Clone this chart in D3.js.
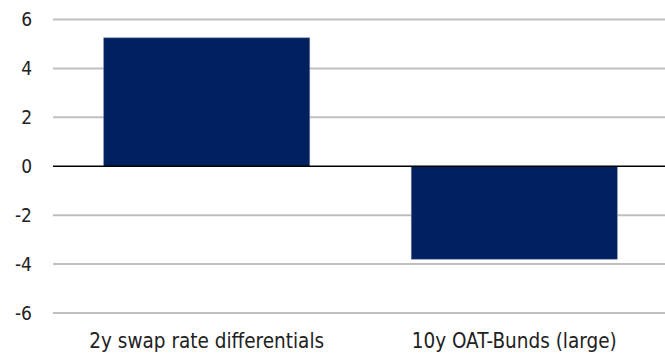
<!DOCTYPE html>
<html>
<head>
<meta charset="utf-8">
<script src="https://cdn.jsdelivr.net/npm/d3@7"></script>
<style>
  body { margin: 0; background: #fff; }
  svg text { font-family: "Liberation Sans Narrow", "DejaVu Sans Condensed", Roboto, sans-serif; fill: #222; }
</style>
</head>
<body>
<div id="chart"></div>
<script>
var categories = ["2y swap rate differentials", "10y OAT-Bunds (large)"];
var values = [5.25, -3.8];
var yTicks = [-6, -4, -2, 0, 2, 4, 6];

var width = 665, height = 358;
var margin = {top: 19.5, right: 0, bottom: 45, left: 53};

var svg = d3.select("#chart").append("svg")
    .attr("width", width)
    .attr("height", height);

var x = d3.scaleBand()
    .domain(categories)
    .range([margin.left, 668])
    .paddingInner(0.33)
    .paddingOuter(0.165);

var y = d3.scaleLinear()
    .domain([-6, 6])
    .range([height - margin.bottom, margin.top]);

// gridlines
svg.append("g").selectAll("line")
    .data(yTicks.filter(function(d){ return d !== 0; }))
    .enter().append("line")
    .attr("x1", margin.left)
    .attr("x2", width)
    .attr("y1", function(d){ return y(d); })
    .attr("y2", function(d){ return y(d); })
    .attr("stroke", "#bfbfbf")
    .attr("stroke-width", 2);

// y tick labels (plain hyphen like the original)
var yAxis = svg.append("g")
    .attr("transform", "translate(" + 32 + ",0)")
    .call(d3.axisLeft(y).tickValues(yTicks).tickSize(0).tickPadding(0)
        .tickFormat(function(d){ return String(d); }));
yAxis.select(".domain").remove();
yAxis.selectAll("text")
    .style("font-size", "19px")
    .attr("fill", "#222");

// bars
svg.append("g").selectAll("rect")
    .data(values)
    .enter().append("rect")
    .attr("x", function(d, i){ return x(categories[i]); })
    .attr("width", x.bandwidth())
    .attr("y", function(d){ return y(Math.max(0, d)); })
    .attr("height", function(d){ return Math.abs(y(d) - y(0)); })
    .attr("fill", "#002060")
    .attr("stroke", "#6f80a8")
    .attr("stroke-width", 0.6);

// zero line
svg.append("line")
    .attr("x1", margin.left)
    .attr("x2", width)
    .attr("y1", y(0))
    .attr("y2", y(0))
    .attr("stroke", "#000")
    .attr("stroke-width", 1.5);

// category labels
svg.append("g").selectAll("text")
    .data(categories)
    .enter().append("text")
    .attr("x", function(d){ return x(d) + x.bandwidth() / 2; })
    .attr("y", 348)
    .attr("text-anchor", "middle")
    .style("font-size", "20.5px")
    .text(function(d){ return d; });
</script>
</body>
</html>
